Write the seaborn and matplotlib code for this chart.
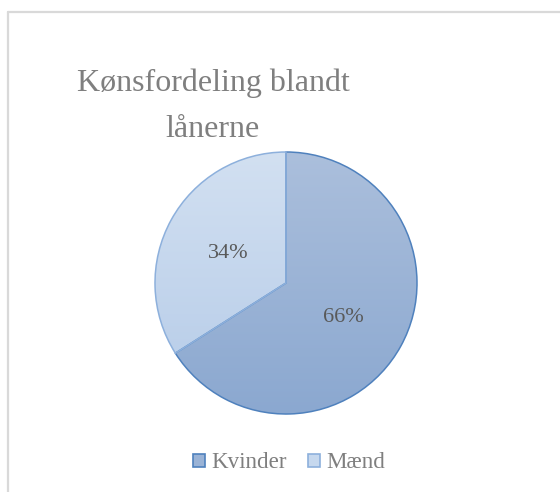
import numpy as np
import matplotlib
matplotlib.use("Agg")
import matplotlib.pyplot as plt
import seaborn as sns
from matplotlib.colors import LinearSegmentedColormap
from matplotlib.patches import Patch
from matplotlib.lines import Line2D

# ---- data ----
categories = ["Kvinder", "Mænd"]
shares = [66, 34]
title_lines = ["Kønsfordeling blandt", "lånerne"]

# ---- style ----
sns.set_theme(style="white")
plt.rcParams["font.family"] = ["Liberation Serif", "DejaVu Serif"]

top_colors = ["#abbfdc", "#d2e0f1"]
bottom_colors = ["#8ba8d0", "#b5cbe8"]
edge_colors = ["#4f81bd", "#8db0dc"]
legend_fill = ["#9ab3d6", "#c6d8ee"]

W, H = 560, 492
fig = plt.figure(figsize=(W / 100, H / 100), dpi=100)
fig.patch.set_facecolor("white")

# chart frame (only top and left edges visible)
fig.add_artist(Line2D([8 / W, 1], [1 - 12 / H, 1 - 12 / H], color="#d9d9d9", lw=1.6,
                      transform=fig.transFigure))
fig.add_artist(Line2D([8 / W, 8 / W], [0, 1 - 12 / H], color="#d9d9d9", lw=1.6,
                      transform=fig.transFigure))

# pie axes: centre (286, 283) px, radius 131 px
cx, cy, r = 286, 283, 131
ax = fig.add_axes([(cx - r) / W, (H - cy - r) / H, 2 * r / W, 2 * r / H])
wedges, texts, autotexts = ax.pie(
    shares, startangle=90, counterclock=False, radius=1,
    autopct=lambda p: f"{p:.0f}%", pctdistance=0.5,
    wedgeprops=dict(linewidth=1.1),
    textprops=dict(fontsize=16, color="#595959"),
)
ax.set_xlim(-1.0, 1.0)
ax.set_ylim(-1.0, 1.0)
ax.set_aspect("equal")
ax.axis("off")

grad = np.linspace(0, 1, 256).reshape(-1, 1)
for i, w in enumerate(wedges):
    cmap = LinearSegmentedColormap.from_list(f"g{i}", [top_colors[i], bottom_colors[i]])
    im = ax.imshow(grad, extent=(-1, 1, -1, 1), origin="upper", cmap=cmap,
                   aspect="auto", zorder=1, interpolation="bilinear")
    im.set_clip_path(w)
    w.set_facecolor("none")
    w.set_edgecolor(edge_colors[i])
    w.set_zorder(2)
for t in autotexts:
    t.set_zorder(3)
    t.set_va("center_baseline")

# title
fig.text(213 / W, 1 - 91 / H, title_lines[0], ha="center", va="baseline",
         fontsize=23, color="#7f7f7f")
fig.text(213 / W, 1 - 137 / H, title_lines[1], ha="center", va="baseline",
         fontsize=23, color="#7f7f7f")

# legend
handles = [Patch(facecolor=legend_fill[i], edgecolor=edge_colors[i], linewidth=1.2)
           for i in range(len(categories))]
fig.legend(handles, categories, loc="center", bbox_to_anchor=(289 / W, 1 - 463 / H),
           ncol=2, frameon=False, fontsize=16.6, labelcolor="#7f7f7f",
           handlelength=0.53, handleheight=0.53, handletextpad=0.28,
           columnspacing=0.9, borderpad=0, borderaxespad=0)

fig.savefig("out.png", dpi=100, facecolor="white")
